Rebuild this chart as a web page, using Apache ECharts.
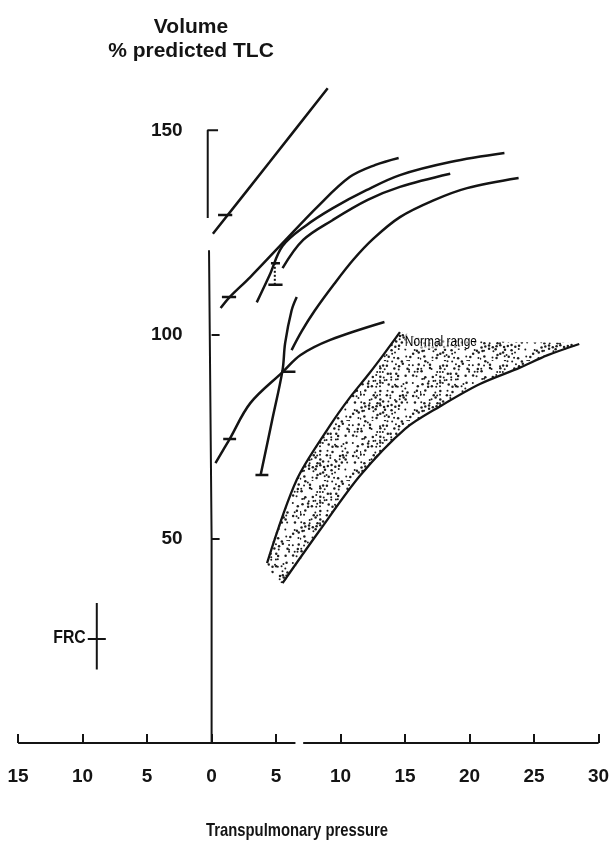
<!DOCTYPE html>
<html>
<head>
<meta charset="utf-8">
<script src="https://cdn.jsdelivr.net/npm/echarts@6/dist/echarts.min.js"></script>
<style>
  html, body { margin: 0; padding: 0; background: #ffffff; }
  #chart { width: 611px; height: 848px; }
</style>
</head>
<body>
<div id="chart"></div>
<script>
// Static pressure-volume curves: transpulmonary pressure (cmH2O) vs volume (% predicted TLC)
const xTickValues = [-15, -10, -5, 0, 5, 10, 15, 20, 25, 30];
const yTickValues = [50, 100, 150];

// Individual curves, [pressure, volume]
const curveA = [[0.1, 124.8], [4.5, 142.4], [9.0, 160.5]];
const curveB = [[0.7, 106.6], [1.4, 109.3], [3.0, 114.2], [5.5, 122.5], [8.2, 131.4], [10.7, 138.7], [12.7, 141.7], [14.5, 143.4]];
const curveC = [[3.5, 108.0], [4.5, 114.7], [5.5, 121.8], [7.3, 126.8], [9.4, 131.1], [12.0, 135.5], [14.6, 139.2], [18.5, 142.4], [22.7, 144.6]];
const curveD = [[5.5, 116.4], [7.1, 123.3], [9.4, 128.2], [12.1, 133.1], [14.6, 136.3], [18.5, 139.5]];
const curveE = [[6.2, 96.3], [7.0, 101.0], [8.0, 106.0], [9.5, 112.5], [11.0, 118.5], [12.5, 123.5], [14.6, 128.9], [17.2, 133.0], [19.8, 136.0], [23.8, 138.5]];
const curveF = [[0.3, 68.6], [1.4, 74.5], [3.0, 83.3], [5.5, 90.9], [6.9, 95.1], [9.2, 98.8], [13.4, 103.2]];
const curveG = [[3.8, 65.7], [4.7, 79.2], [5.5, 91.4], [5.7, 98.0], [6.2, 106.0], [6.6, 109.3]];
const curves = [curveA, curveB, curveC, curveD, curveE, curveF, curveG];

// FRC marks on the curves: [pressure from, pressure to, volume]
const frcBars = [
  [0.5, 1.6, 129.4],
  [0.8, 1.9, 109.3],
  [0.9, 1.9, 74.5],
  [5.4, 6.5, 91.0],
  [3.4, 4.4, 65.7],
  [4.6, 5.3, 117.6],
  [4.4, 5.5, 112.3]
];
// FRC range shown as a dotted link: [pressure, volume from, volume to]
const frcRange = [4.9, 112.3, 117.6];

// Normal range band
const normalLower = [[4.3, 44.1], [6.6, 64.5], [9.2, 77.9], [10.7, 84.6], [12.2, 90.5], [13.4, 95.5], [14.6, 100.7]];
const normalTop = [[16.0, 99.3], [20.0, 98.6], [24.0, 98.2]];
const normalUpper = [[28.5, 97.8], [26.0, 95.0], [23.9, 92.0], [20.8, 88.0], [17.7, 82.5], [15.0, 77.0], [11.5, 65.5], [8.4, 52.2], [5.5, 39.2]];
const normalLabelAt = [14.9, 98.3];

// Axes drawn by hand (broken lines)
const yAxisLower = [[-0.2, 120.8], [0, 50], [0, 0]];
const yAxisUpper = [[-0.3, 128.7], [-0.3, 150.2], [0.5, 150.2]];
const xAxisLeft = [[-15, 0], [6.5, 0]];
const xAxisRight = [[7.1, 0], [30, 0]];

// Reference FRC marker
const frcRefVertical = [[-8.9, 18.0], [-8.9, 34.3]];
const frcRefHorizontal = [[-9.6, 25.5], [-8.2, 25.5]];

const FONT = "'Liberation Sans Narrow', 'Arial Narrow', 'Liberation Sans', Arial, sans-serif";
const INK = '#141414';

// Stipple texture for the normal range
function makeStipple() {
  const size = 60;
  const c = document.createElement('canvas');
  c.width = size; c.height = size;
  const ctx = c.getContext('2d');
  ctx.fillStyle = '#1e1e1e';
  const step = 3.75;
  const n = Math.round(size / step);
  for (let i = 0; i < n; i++) {
    for (let j = 0; j < n; j++) {
      const h = (i * 7919 + j * 104729 + i * j * 31) % 101;
      if (h % 3 === 0) continue;
      const ox = (h % 9) / 9 * 2.8;
      const oy = ((h * 13) % 11) / 11 * 2.8;
      const r = 0.75 + (h % 3) * 0.25;
      ctx.beginPath();
      ctx.arc(i * step + ox, j * step + oy, r, 0, Math.PI * 2);
      ctx.fill();
    }
  }
  return c;
}
const stipple = makeStipple();

function seg(data, opts) {
  return Object.assign({
    type: 'line',
    data: data,
    symbol: 'none',
    silent: true,
    z: 3,
    lineStyle: { color: INK, width: 2.2 }
  }, opts || {});
}

// Text placed at a data coordinate, optionally narrowed
function textAt(coord, text, opts) {
  return {
    type: 'custom',
    silent: true,
    z: 5,
    data: [coord],
    renderItem: function (params, api) {
      const p = api.coord([api.value(0), api.value(1)]);
      return {
        type: 'text',
        x: p[0] + (opts.dx || 0), y: p[1] + (opts.dy || 0), scaleX: opts.scaleX || 1,
        style: Object.assign({
          text: text, verticalAlign: 'middle', fontFamily: FONT, fill: INK
        }, opts.style)
      };
    }
  };
}

const series = [];

// Normal range fill
series.push({
  type: 'custom',
  silent: true,
  z: 1,
  data: [[0, 0]],
  renderItem: function (params, api) {
    const poly = normalLower.concat(normalTop, normalUpper).map(function (p) { return api.coord(p); });
    return {
      type: 'polygon',
      shape: { points: poly, smooth: 0.2 },
      style: { fill: { image: stipple, repeat: 'repeat' }, stroke: null }
    };
  }
});
series.push(seg(normalLower, { smooth: 0.3, lineStyle: { color: INK, width: 2.3 } }));
series.push(seg(normalUpper, { smooth: 0.3, lineStyle: { color: INK, width: 2.3 } }));

// "Normal range" caption
series.push(textAt(normalLabelAt, 'Normal range', {
  dx: 1, scaleX: 0.85,
  style: { align: 'left', fontSize: 14, fill: '#000000', backgroundColor: 'rgba(255,255,255,0.5)' }
}));

// Individual curves
curves.forEach(function (c) {
  series.push(seg(c, { smooth: 0.35, lineStyle: { color: INK, width: 2.5 } }));
});

// FRC marks
frcBars.forEach(function (b) {
  series.push(seg([[b[0], b[2]], [b[1], b[2]]], { lineStyle: { color: INK, width: 2.4 } }));
});
series.push(seg([[frcRange[0], frcRange[1]], [frcRange[0], frcRange[2]]], { lineStyle: { color: INK, width: 2, type: 'dotted' } }));

// Axis lines
[yAxisLower, yAxisUpper, xAxisLeft, xAxisRight].forEach(function (a) {
  series.push(seg(a, { lineStyle: { color: INK, width: 2 } }));
});

// Volume tick labels, placed left of the pressure-zero axis
yTickValues.forEach(function (v) {
  series.push(textAt([0, v], String(v), {
    dx: -29,
    style: { align: 'right', fontSize: 19, fontWeight: 'bold' }
  }));
});

// FRC reference cross with its label
series.push(seg(frcRefVertical, { lineStyle: { color: INK, width: 2 } }));
series.push(seg(frcRefHorizontal, { lineStyle: { color: INK, width: 2 } }));
series.push(textAt(frcRefHorizontal[0], 'FRC', {
  dx: -2, dy: -1, scaleX: 0.88,
  style: { align: 'right', fontSize: 18, fontWeight: 'bold', fill: '#101010' }
}));

const chart = echarts.init(document.getElementById('chart'), null, { renderer: 'canvas' });
chart.setOption({
  animation: false,
  backgroundColor: '#ffffff',
  title: [
    {
      text: 'Volume\n% predicted TLC',
      left: 186, top: 10, textAlign: 'center',
      textStyle: { fontFamily: FONT, fontSize: 21, fontWeight: 'bold', color: INK, lineHeight: 24, align: 'center' }
    }
  ],
  graphic: [
    {
      type: 'text',
      x: 297, y: 831, scaleX: 0.78,
      silent: true,
      style: {
        text: 'Transpulmonary pressure',
        align: 'center', verticalAlign: 'middle',
        fontFamily: FONT, fontSize: 19, fontWeight: 'bold', fill: INK
      }
    }
  ],
  grid: { left: 18.1, right: 611 - 598.6, top: 8.6, bottom: 105, outerBoundsMode: 'none', containLabel: false },
  xAxis: {
    type: 'value', min: -15, max: 30, interval: 5,
    axisLine: { show: false },
    splitLine: { show: false },
    axisTick: { show: true, inside: true, length: 9, customValues: xTickValues, lineStyle: { color: INK, width: 2 } },
    axisLabel: {
      customValues: xTickValues, margin: 24,
      formatter: function (v) { return String(Math.abs(v)); },
      fontFamily: FONT, fontSize: 19, fontWeight: 'bold', color: INK
    }
  },
  yAxis: {
    type: 'value', min: 0, max: 180, interval: 50,
    axisLine: { show: false },
    splitLine: { show: false },
    axisTick: { show: true, inside: true, length: 8, customValues: [50, 100], lineStyle: { color: INK, width: 2 } },
    axisLabel: { show: false }
  },
  series: series
});
</script>
</body>
</html>
